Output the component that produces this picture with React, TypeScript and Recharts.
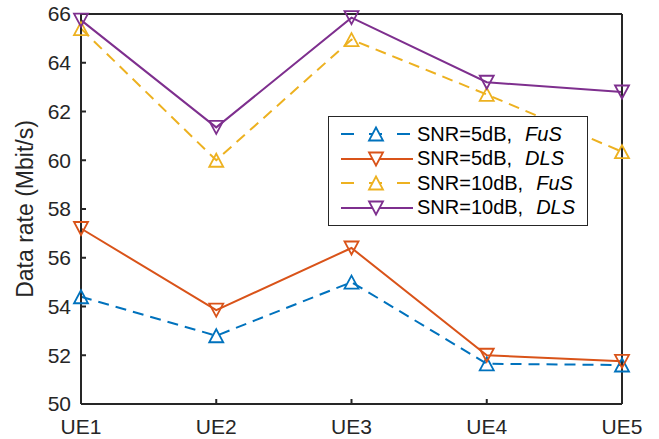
import { LineChart, Line, XAxis, YAxis } from 'recharts'

const categories = ['UE1', 'UE2', 'UE3', 'UE4', 'UE5']
const fus5 = [54.4, 52.8, 55.0, 51.65, 51.6]
const dls5 = [57.2, 53.85, 56.4, 52.0, 51.75]
const fus10 = [65.4, 60.0, 64.95, 62.7, 60.35]
const dls10 = [65.75, 61.35, 65.85, 63.2, 62.8]
const yTicks = [50, 52, 54, 56, 58, 60, 62, 64, 66]

const series = [
    { key: 'fus5', snr: 'SNR=5dB,', method: 'FuS', color: '#0072BD', dash: '11 7', up: true },
    { key: 'dls5', snr: 'SNR=5dB,', method: 'DLS', color: '#D95319', dash: undefined, up: false },
    { key: 'fus10', snr: 'SNR=10dB,', method: 'FuS', color: '#EDB120', dash: '11 7', up: true },
    { key: 'dls10', snr: 'SNR=10dB,', method: 'DLS', color: '#7E2F8E', dash: undefined, up: false }
]

const data = categories.map((name, i) => ({
    name,
    fus5: fus5[i],
    dls5: dls5[i],
    fus10: fus10[i],
    dls10: dls10[i]
}))

const FONT = '"Liberation Sans", Arial, Helvetica, sans-serif'
const INK = '#262626'

function triPath(cx: number, cy: number, up: boolean) {
    const w = 7, h = 6.5
    if (up) return `M${cx},${cy - h} L${cx + w},${cy + h} L${cx - w},${cy + h} Z`
    return `M${cx},${cy + h} L${cx + w},${cy - h} L${cx - w},${cy - h} Z`
}

function makeDot(color: string, up: boolean) {
    return (props: any) => {
        const { cx, cy, index } = props
        if (cx == null || cy == null) return <g key={index} />
        return <path key={index} d={triPath(cx, cy, up)} fill="none" stroke={color} strokeWidth={1.8} />
    }
}

function LegendBox() {
    return (
        <div style={{
            position: 'absolute',
            left: 328,
            top: 116,
            background: '#fff',
            border: `1.5px solid ${INK}`,
            width: 260,
            height: 110,
            boxSizing: 'border-box',
            paddingTop: 5,
            fontFamily: FONT,
            fontSize: 20,
            color: '#000'
        }}>
            {series.map((s) => (
                <div key={s.key} style={{ display: 'flex', alignItems: 'center', height: 24.5 }}>
                    <svg width={88} height={22} style={{ flex: 'none' }}>
                        <line x1={12} y1={11} x2={84} y2={11} stroke={s.color} strokeWidth={2}
                            strokeDasharray={s.dash ? '13 15' : undefined} />
                        <path d={triPath(47, 11, s.up)} fill="#fff" stroke={s.color} strokeWidth={1.8} />
                    </svg>
                    <span style={{ whiteSpace: 'pre' }}>{s.snr}</span>
                    <span style={{ fontStyle: 'italic', marginLeft: 13 }}>{s.method}</span>
                </div>
            ))}
        </div>
    )
}

function App() {
    return (
        <div style={{ position: 'absolute', left: 0, top: 0, width: 659, height: 439, background: '#fff' }}>
            <LineChart width={659} height={439} data={data}
                margin={{ top: 13, right: 36, bottom: 0, left: 8 }}
                style={{ fontFamily: FONT }}>
                <XAxis dataKey="name" height={35} tickSize={-5} tickMargin={20}
                    stroke={INK} strokeWidth={2}
                    tick={{ fill: INK, fontSize: 21 }} />
                <XAxis xAxisId="top" dataKey="name" orientation="top" height={1} tickSize={-5}
                    tick={false} stroke={INK} strokeWidth={2} />
                <YAxis domain={[50, 66]} ticks={yTicks} width={73} tickSize={-5} tickMargin={15}
                    interval={0} stroke={INK} strokeWidth={2}
                    tick={{ fill: INK, fontSize: 21 }}
                    label={{ value: 'Data rate (Mbit/s)', angle: -90, position: 'insideLeft', offset: 17,
                        style: { fill: INK, fontSize: 23, fontFamily: FONT, textAnchor: 'middle' } }} />
                <YAxis yAxisId="right" orientation="right" domain={[50, 66]} ticks={yTicks} width={1}
                    tickSize={-5} tick={false} stroke={INK} strokeWidth={2} />
                {series.map((s) => (
                    <Line key={s.key} dataKey={s.key} type="linear" stroke={s.color} strokeWidth={2}
                        strokeDasharray={s.dash} dot={makeDot(s.color, s.up)} activeDot={false}
                        isAnimationActive={false} />
                ))}
            </LineChart>
            <LegendBox />
        </div>
    )
}

export default App
